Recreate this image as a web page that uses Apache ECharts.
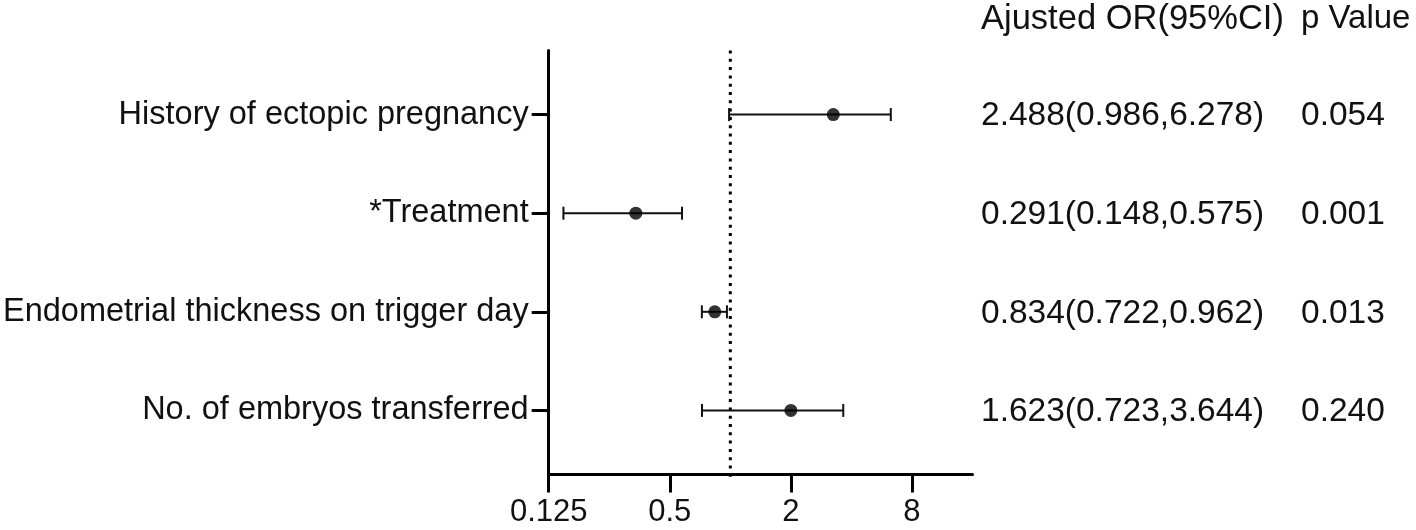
<!DOCTYPE html>
<html>
<head>
<meta charset="utf-8">
<script src="https://cdn.jsdelivr.net/npm/echarts@6/dist/echarts.min.js"></script>
<style>
html,body{margin:0;padding:0;background:#fff;}
#main{width:1416px;height:530px;}
</style>
</head>
<body>
<div id="main"></div>
<script>
// ---- data ----
var variables = ['History of ectopic pregnancy', '*Treatment', 'Endometrial thickness on trigger day', 'No. of embryos transferred'];
var rowPos = [1, 2, 3, 4];
// plotted point estimates (as drawn in the figure)
var pointOR = [3.25, 0.339, 0.837, 2.0];
var lowerCI = [0.986, 0.148, 0.722, 0.723];
var upperCI = [6.278, 0.575, 0.962, 3.644];
var orText = ['2.488(0.986,6.278)', '0.291(0.148,0.575)', '0.834(0.722,0.962)', '1.623(0.723,3.644)'];
var pText = ['0.054', '0.001', '0.013', '0.240'];
var xTicks = [0.125, 0.5, 2, 8];
var headerOR = 'Ajusted OR(95%CI)';
var headerP = 'p Value';
var refLine = 1;

var FONT = "'Liberation Sans', Arial, Helvetica, sans-serif";
var chart = echarts.init(document.getElementById('main'), null, {renderer: 'canvas'});

var xMin = 0.125, xMax = 16;
var yMin = 0.35, yMax = 4.65;
var scatterData = pointOR.map(function (v, i) { return [v, rowPos[i]]; });
var ciData = lowerCI.map(function (v, i) { return [v, upperCI[i], rowPos[i]]; });
var refData = [[refLine, yMin], [refLine, 4.69]];
// same ticks expressed as base-2 exponents for the tick-only companion axis
var xTickExp = xTicks.map(function (v) { return Math.log2(v); });

var option = {
  animation: false,
  backgroundColor: '#fff',
  grid: {left: 547.5, right: 443.5, top: 50.5, bottom: 55.5, containLabel: false},
  xAxis: [{
    type: 'log', logBase: 2, min: xMin, max: xMax,
    axisLine: {show: true, onZero: false, lineStyle: {color: '#000', width: 3}},
    axisTick: {show: false},
    axisLabel: {customValues: xTicks, color: '#111', fontSize: 31, fontFamily: FONT, margin: 22,
      formatter: function (v) { return String(+v.toPrecision(6)); }},
    splitLine: {show: false}, minorTick: {show: false}
  }, {
    // tick-only companion axis in log2 space (same span as the log axis)
    type: 'value', position: 'bottom', offset: 0,
    min: Math.log2(xMin), max: Math.log2(xMax),
    axisLine: {show: false, onZero: false},
    axisTick: {show: true, inside: false, length: 18, lineStyle: {color: '#000', width: 3}, customValues: xTickExp},
    axisLabel: {show: false},
    splitLine: {show: false}
  }],
  yAxis: {
    type: 'value', min: yMin, max: yMax, inverse: true,
    axisLine: {show: true, onZero: false, lineStyle: {color: '#000', width: 3}},
    axisTick: {show: true, length: 17, lineStyle: {color: '#000', width: 3}, customValues: rowPos},
    axisLabel: {customValues: rowPos, color: '#111', fontSize: 32.5, fontFamily: FONT, margin: 20,
      padding: [8, 0, 0, 0],
      formatter: function (v) { var i = rowPos.indexOf(Math.round(v)); return i >= 0 ? variables[i] : ''; }},
    splitLine: {show: false}
  },
  series: [
    {
      type: 'line',
      data: refData,
      clip: false,
      symbol: 'none',
      silent: true,
      lineStyle: {color: '#000', width: 3, type: [3, 5.3]},
      z: 2
    },
    {
      type: 'custom',
      data: ciData,
      clip: false,
      encode: {x: [0, 1], y: 2},
      renderItem: function (params, api) {
        var y = api.value(2);
        var p1 = api.coord([api.value(0), y]);
        var p2 = api.coord([api.value(1), y]);
        var h = 6.5;
        var st = {stroke: '#111', lineWidth: 2, fill: null};
        return {type: 'group', children: [
          {type: 'line', shape: {x1: p1[0], y1: p1[1], x2: p2[0], y2: p2[1]}, style: st},
          {type: 'line', shape: {x1: p1[0], y1: p1[1] - h, x2: p1[0], y2: p1[1] + h}, style: st},
          {type: 'line', shape: {x1: p2[0], y1: p2[1] - h, x2: p2[0], y2: p2[1] + h}, style: st}
        ]};
      },
      z: 3
    },
    {
      type: 'scatter',
      data: scatterData,
      symbol: 'circle', symbolSize: 13,
      itemStyle: {color: '#000'},
      z: 4
    }
  ]
};
chart.setOption(option);

var graphics = [];
// right-side text table
var colOR = 981, colP = 1301;
graphics.push({type: 'text', x: colOR, y: 19, style: {text: headerOR, font: "34.5px " + FONT, fill: '#111', verticalAlign: 'middle'}});
graphics.push({type: 'text', x: colP, y: 19, style: {text: headerP, font: "33px " + FONT, fill: '#111', verticalAlign: 'middle'}});
rowPos.forEach(function (r, i) {
  var py = chart.convertToPixel({yAxisIndex: 0}, r);
  graphics.push({type: 'text', x: colOR, y: py + 1.5, style: {text: orText[i], font: "33.5px " + FONT, fill: '#111', verticalAlign: 'middle', align: 'left'}});
  graphics.push({type: 'text', x: colP, y: py + 1.5, style: {text: pText[i], font: "33.5px " + FONT, fill: '#111', verticalAlign: 'middle', align: 'left'}});
});
chart.setOption({graphic: graphics});
</script>
</body>
</html>
